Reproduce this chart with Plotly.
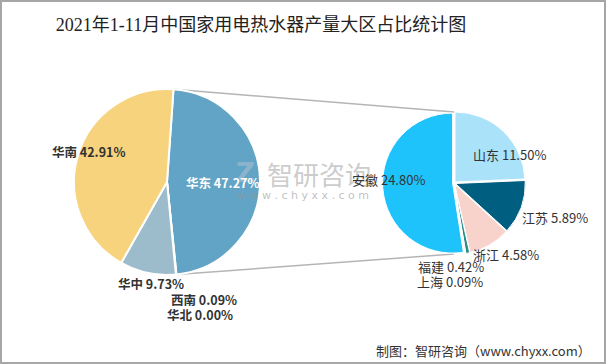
import plotly.graph_objects as go
import math

# ---------------- data ----------------
region_labels = ["华东", "西南", "华北", "华中", "华南"]
region_values = [47.27, 0.09, 0.00, 9.73, 42.91]

east_labels = ["山东", "江苏", "浙江", "福建", "上海", "安徽"]
east_values = [11.50, 5.89, 4.58, 0.42, 0.09, 24.80]

title_text = "2021年1-11月中国家用电热水器产量大区占比统计图"
source_text = "制图：智研咨询（www.chyxx.com）"

# ---------------- layout config ----------------
W, H = 606, 364
region_colors = ["#62A4C5", "#5B7FA3", "#3E6A8A", "#9DBCCB", "#F6D37C"]
east_colors = ["#A9E2F9", "#005F80", "#F8D3CB", "#2A8C8A", "#8FC7C0", "#1EC3FC"]

L_cx, L_cy, L_r = 167, 182, 93
R_cx, R_cy, R_r = 454, 183, 70
R_pull = 0.02

def px(x):
    return x / W

def py(y):
    return 1 - y / H

# label centre positions (pixels)
region_label_pos = {"华东": (222, 182), "西南": (204, 299), "华北": (200, 314),
                    "华中": (151, 283), "华南": (88, 151)}
east_label_pos = {"山东": (509, 154), "江苏": (555, 217), "浙江": (506, 254),
                  "福建": (451, 266), "上海": (450, 281), "安徽": (388, 179)}

fig = go.Figure()

fig.add_trace(go.Pie(
    labels=region_labels, values=region_values, sort=False, direction="clockwise",
    rotation=4, textinfo="none", hoverinfo="label+percent",
    marker=dict(colors=region_colors, line=dict(color="white", width=2)),
    domain=dict(x=[px(L_cx - L_r), px(L_cx + L_r)], y=[py(L_cy + L_r), py(L_cy - L_r)]),
    showlegend=False,
))

half = R_r * (1 + R_pull)
fig.add_trace(go.Pie(
    labels=east_labels, values=east_values, sort=False, direction="clockwise",
    rotation=0, textinfo="none", hoverinfo="label+value",
    pull=[R_pull] * len(east_values),
    marker=dict(colors=east_colors, line=dict(color="white", width=1)),
    domain=dict(x=[px(R_cx - half), px(R_cx + half)], y=[py(R_cy + half), py(R_cy - half)]),
    showlegend=False,
))

annotations = []

def ann(x, y, text, font, xanchor="center"):
    annotations.append(dict(x=px(x), y=py(y), text=text, showarrow=False,
                            xref="paper", yref="paper", xanchor=xanchor, yanchor="middle",
                            font=font))

# watermark
ann(245, 173, "<b>Z</b>", dict(family="DejaVu Sans", size=26, color="rgba(170,190,210,0.6)"))
ann(319, 173, "智研咨询", dict(family="Noto Sans CJK SC", size=26, color="rgba(170,170,170,0.6)"))
ann(303, 195, "w w w . c h y x x . c o m", dict(family="DejaVu Sans", size=11, color="rgba(150,150,150,0.6)"))

for name, val in zip(region_labels, region_values):
    x, y = region_label_pos[name]
    col = "white" if name == "华东" else "#333333"
    ann(x, y, f"{name} {val:.2f}%", dict(family="Noto Sans CJK SC", size=12.5, color=col, weight="bold"))

for name, val in zip(east_labels, east_values):
    x, y = east_label_pos[name]
    ann(x, y, f"{name} {val:.2f}%", dict(family="Noto Sans CJK SC", size=13, color="#333333"))

ann(593, 350, source_text, dict(family="Noto Sans CJK SC", size=13, color="#333333"), xanchor="right")

# connector lines computed from the pie geometry
total = sum(region_values)
a0 = math.radians(4)
a1 = math.radians(4 + 360 * region_values[0] / total)
lx0, ly0 = L_cx + L_r * math.sin(a0), L_cy - L_r * math.cos(a0)
lx1, ly1 = L_cx + L_r * math.sin(a1), L_cy - L_r * math.cos(a1)

shapes = [
    dict(type="line", xref="paper", yref="paper", x0=px(lx0), y0=py(ly0), x1=px(R_cx), y1=py(R_cy - R_r - 1),
         line=dict(color="#B5B5B5", width=1.5), layer="below"),
    dict(type="line", xref="paper", yref="paper", x0=px(lx1), y0=py(ly1), x1=px(R_cx), y1=py(R_cy + R_r + 1),
         line=dict(color="#B5B5B5", width=1.5), layer="below"),
    dict(type="rect", xref="paper", yref="paper", x0=px(1), y0=py(H - 1), x1=px(W - 1), y1=py(1),
         line=dict(color="#A6A6A6", width=2), fillcolor="rgba(0,0,0,0)"),
]

fig.update_layout(
    width=W, height=H,
    margin=dict(l=0, r=0, t=0, b=0),
    paper_bgcolor="white", plot_bgcolor="white",
    title=dict(text=title_text, x=px(261), xanchor="center", y=py(25), yanchor="middle",
               font=dict(family="Liberation Serif, Noto Sans CJK SC", size=18, color="#222222")),
    annotations=annotations,
    shapes=shapes,
    showlegend=False,
)

fig.write_html("out.html", config={"displayModeBar": False},
               post_script="document.body.style.margin='0';")
